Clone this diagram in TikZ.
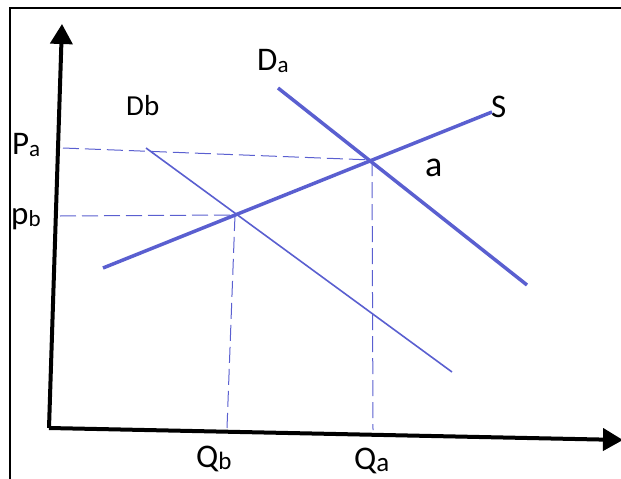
\documentclass[tikz,border=0pt]{standalone}
\usepackage{fontspec}
\setmainfont{Carlito}
\usetikzlibrary{arrows.meta}
\definecolor{curve}{HTML}{5A5FD0}
\newcommand{\sublbl}[3]{#1{\fontsize{#3}{#3}\selectfont\raisebox{-2pt}{#2}}}
\begin{document}
\begin{tikzpicture}[x=1pt,y=-1pt,
  axisline/.style={line width=4pt,-{Triangle[length=20pt,width=22pt]}},
  frameline/.style={line width=1.5pt},
  sline/.style={draw=curve,line width=3.5pt},
  tline/.style={draw=curve,line width=1.6pt},
  guide/.style={draw=curve,line width=1pt,dash pattern=on 16pt off 6pt},
  lab/.style={inner sep=0pt,anchor=base west,font=\fontsize{33}{33}\selectfont}]
\useasboundingbox (0,0) rectangle (621,479);
% frame
\coordinate (fb) at (10,479);
\coordinate (fc) at (10,8);
\coordinate (fr) at (621,8);
\draw[frameline] (fb) -- (fc) -- (fr);
% axes
\coordinate (O) at (49,428);
\coordinate (ytip) at (62,24);
\coordinate (xtip) at (623,440);
\draw[axisline] (O) -- (ytip);
\draw[axisline] (O) -- (xtip);
% curves
\coordinate (s1) at (103,268);
\coordinate (s2) at (492,112);
\coordinate (da1) at (278,88);
\coordinate (da2) at (527,285);
\coordinate (db1) at (146,148);
\coordinate (db2) at (452,372);
\draw[sline] (s1) -- (s2);
\draw[sline] (da1) -- (da2);
\draw[tline] (db1) -- (db2);
% equilibria
\coordinate (A) at (372,160);
\coordinate (B) at (235,215);
\coordinate (pa0) at (63,148);
\coordinate (pb0) at (60,216);
\coordinate (qb0) at (227,428);
\coordinate (qa0) at (373,430);
\draw[guide] (pa0) -- (A);
\draw[guide] (pb0) -- (B);
\draw[guide] (B) -- (qb0);
\draw[guide] (A) -- (qa0);
% labels
\node[lab] (lDa) at (257,70) {\sublbl{D}{a}{23}};
\node[lab,font=\fontsize{29}{29}\selectfont] (lDb) at (126,115) {Db};
\node[lab] (lS) at (491,117) {S};
\node[lab,font=\fontsize{36}{36}\selectfont] (la) at (425,176) {a};
\node[lab] (lPa) at (12,154) {\sublbl{P}{a}{23}};
\node[lab] (lPb) at (11,224) {\sublbl{p}{b}{23}};
\node[lab] (lQb) at (196,467) {\sublbl{Q}{b}{25}};
\node[lab] (lQa) at (354,469) {\sublbl{Q}{a}{27}};
\end{tikzpicture}
\end{document}
